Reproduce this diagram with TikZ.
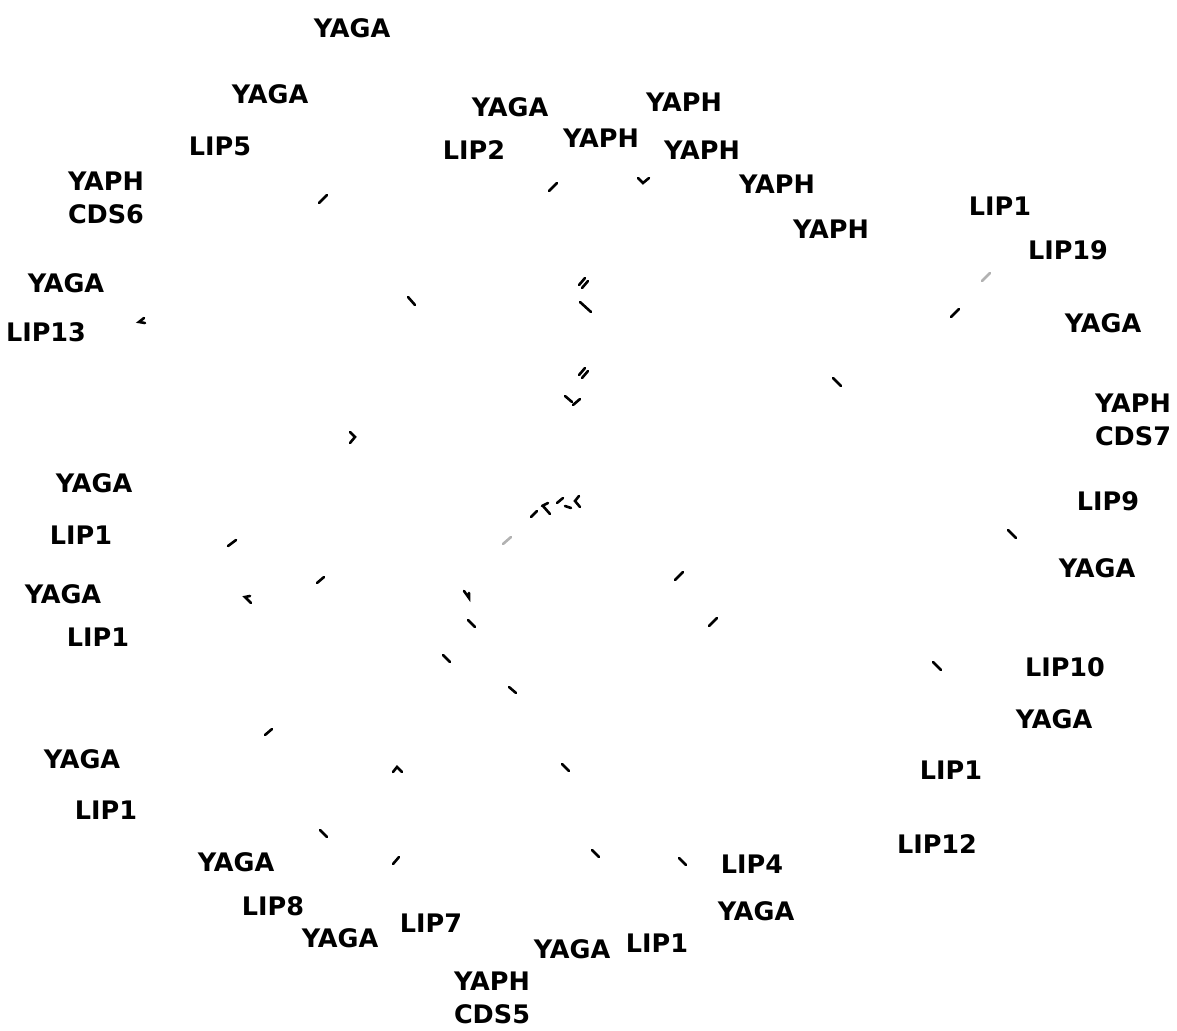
\documentclass[tikz,border=0pt]{standalone}
\usepackage{fontspec}
\setmainfont{DejaVu Sans}
\usepackage{tikz}

\begin{document}
\begin{tikzpicture}[
  x=1pt,y=-1pt,
  lbl/.style={inner sep=0pt,align=center,font=\fontsize{25.5}{33}\selectfont\bfseries},
  tickline/.style={line width=2.6pt,line cap=round},
  faint/.style={line width=2.6pt,line cap=round,gray!60}
]
  \useasboundingbox (0,0) rectangle (1177,1030);

  % labels round the ring
  \node[lbl] (yagaA) at (352,28) {YAGA};
  \node[lbl] (yagaB) at (270,94) {YAGA};
  \node[lbl] (lipFive) at (220,146) {LIP5};
  \node[lbl] (cdsSix) at (106,198) {YAPH\\CDS6};
  \node[lbl] (yagaC) at (66,283) {YAGA};
  \node[lbl] (lipThirteen) at (46,332) {LIP13};
  \node[lbl] (yagaD) at (510,107) {YAGA};
  \node[lbl] (lipTwo) at (474,150) {LIP2};
  \node[lbl] (yaphA) at (601,138) {YAPH};
  \node[lbl] (yaphB) at (684,102) {YAPH};
  \node[lbl] (yaphC) at (702,150) {YAPH};
  \node[lbl] (yaphD) at (777,184) {YAPH};
  \node[lbl] (yaphE) at (831,229) {YAPH};
  \node[lbl] (lipOneA) at (1000,206) {LIP1};
  \node[lbl] (lipNineteen) at (1068,250) {LIP19};
  \node[lbl] (yagaE) at (1103,323) {YAGA};
  \node[lbl] (cdsSeven) at (1133,420) {YAPH\\CDS7};
  \node[lbl] (lipNine) at (1108,501) {LIP9};
  \node[lbl] (yagaF) at (1097,568) {YAGA};
  \node[lbl] (lipTen) at (1065,667) {LIP10};
  \node[lbl] (yagaG) at (1054,719) {YAGA};
  \node[lbl] (lipOneB) at (951,770) {LIP1};
  \node[lbl] (lipTwelve) at (937,844) {LIP12};
  \node[lbl] (lipFour) at (752,864) {LIP4};
  \node[lbl] (yagaH) at (756,911) {YAGA};
  \node[lbl] (lipOneC) at (657,943) {LIP1};
  \node[lbl] (yagaI) at (572,949) {YAGA};
  \node[lbl] (cdsFive) at (492,998) {YAPH\\CDS5};
  \node[lbl] (lipSeven) at (431,923) {LIP7};
  \node[lbl] (yagaJ) at (340,938) {YAGA};
  \node[lbl] (lipEight) at (273,906) {LIP8};
  \node[lbl] (yagaK) at (236,862) {YAGA};
  \node[lbl] (lipOneD) at (106,810) {LIP1};
  \node[lbl] (yagaL) at (82,759) {YAGA};
  \node[lbl] (lipOneE) at (98,637) {LIP1};
  \node[lbl] (yagaM) at (63,594) {YAGA};
  \node[lbl] (lipOneF) at (81,535) {LIP1};
  \node[lbl] (yagaN) at (94,483) {YAGA};

  % single strokes
  \foreach \xa/\ya/\xb/\yb in {
    319/203/327/195, 549/191/557/183, 951/317/959/309,
    580/302/591/312, 408/297/415/305, 833/378/841/386,
    531/517/537/511, 557/503/563/498, 565/506/571/508,
    228/546/236/540, 317/583/324/577, 468/620/475/627,
    443/655/450/662, 509/687/516/693, 675/580/683/572,
    709/626/717/618, 1008/530/1016/538, 933/662/941/670,
    265/735/272/729, 562/764/569/771, 320/830/327/837,
    393/864/399/857, 592/850/599/857, 679/858/686/865,
    579/285/585/278, 582/288/588/281,
    579/375/585/368, 582/378/588/371}
    \draw[tickline] (\xa,\ya) -- (\xb,\yb);

  % bent strokes
  \draw[tickline] (638,178) -- (643,183) -- (649,178);
  \draw[tickline] (144,318) -- (139,322) -- (145,323);
  \draw[tickline] (565,396) -- (572,402);
  \draw[tickline] (573,405) -- (580,399);
  \draw[tickline] (350,432) -- (355,437) -- (350,443);
  \draw[tickline] (542,506) -- (548,503);
  \draw[tickline] (543,506) -- (550,514);
  \draw[tickline] (579,496) -- (575,501) -- (580,507);
  \draw[tickline] (250,596) -- (245,597) -- (251,603);
  \draw[tickline] (464,591) -- (469,598) -- (469,593);
  \draw[tickline] (393,772) -- (397,767) -- (402,772);

  % pale strokes
  \draw[faint] (982,281) -- (990,273);
  \draw[faint] (503,544) -- (511,537);
\end{tikzpicture}
\end{document}
